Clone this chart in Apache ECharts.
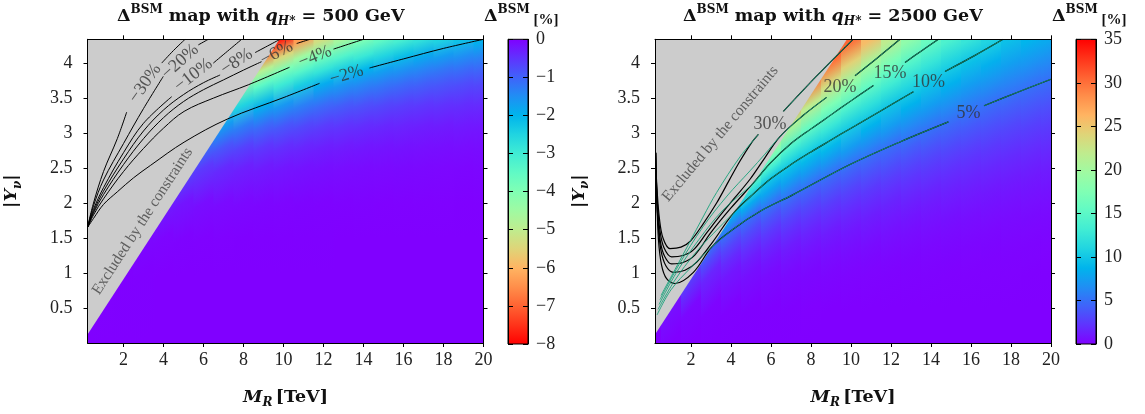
<!DOCTYPE html>
<html><head><meta charset="utf-8">
<script src="https://cdn.jsdelivr.net/npm/echarts@6/dist/echarts.min.js"></script>
<style>html,body{margin:0;padding:0;background:#fff}#c{width:1145px;height:414px}</style>
</head><body><div id="c"></div>
<script>
// ---------------- data ----------------
const xTicks = [2, 4, 6, 8, 10, 12, 14, 16, 18, 20];
const yTicks = [0.5, 1, 1.5, 2, 2.5, 3, 3.5, 4];
const leftBarTicksMin = -8, leftBarTicksMax = 0, leftBarStep = 1;
const rightBarTicksMin = 0, rightBarTicksMax = 35, rightBarStep = 5;
const excludedEdge = [[0.2, 0.12], [9.8, 4.34]];

// heat map: one column per M value, values at the listed |Y| stops (missing = hidden by the excluded region)
const heatM = [0,1,2,3,4,5,6,7,8,9,10,11,12,13,14,15,16,17,18,19,20];
const leftHeatY = [0, 1.0, 1.5, 2.0, 2.5, 2.8, 3.1, 3.4, 3.7, 3.9, 4.1, 4.34];
const leftHeat = [
  [0,-0.06],
  [0,-0.02],
  [0,-0.01,-0.15],
  [0,-0.01,-0.08,-0.52],
  [0,0,-0.05,-0.31,-1.3],
  [0,0,-0.03,-0.2,-0.83,-1.74],
  [0,0,-0.02,-0.13,-0.57,-1.2,-2.33],
  [0,0,-0.02,-0.1,-0.42,-0.87,-1.7,-3.16],
  [0,0,-0.01,-0.08,-0.32,-0.67,-1.31,-2.5,-4.26,-6],
  [0,0,-0.01,-0.06,-0.27,-0.55,-1.08,-1.96,-3.49,-4.87,-6.74,-9],
  [0,0,-0.01,-0.05,-0.22,-0.46,-0.89,-1.63,-2.95,-3.95,-5.41,-7.68],
  [0,0,-0.01,-0.04,-0.18,-0.38,-0.73,-1.33,-2.39,-3.37,-4.5,-6.3],
  [0,0,-0.01,-0.03,-0.15,-0.31,-0.6,-1.1,-1.9,-2.83,-3.8,-5.29],
  [0,0,0,-0.03,-0.13,-0.27,-0.52,-0.94,-1.63,-2.37,-3.3,-4.6],
  [0,0,0,-0.03,-0.11,-0.23,-0.45,-0.82,-1.42,-2,-2.91,-4],
  [0,0,0,-0.02,-0.1,-0.2,-0.39,-0.72,-1.25,-1.75,-2.51,-3.53],
  [0,0,0,-0.02,-0.09,-0.18,-0.35,-0.63,-1.09,-1.54,-2.16,-3.14],
  [0,0,0,-0.02,-0.08,-0.16,-0.3,-0.55,-0.97,-1.36,-1.87,-2.78],
  [0,0,0,-0.02,-0.07,-0.14,-0.27,-0.5,-0.86,-1.21,-1.68,-2.5],
  [0,0,0,-0.01,-0.06,-0.13,-0.25,-0.45,-0.77,-1.09,-1.51,-2.23],
  [0,0,0,-0.01,-0.06,-0.12,-0.22,-0.41,-0.71,-1.0,-1.38,-2]
];
const rightHeatY = [0, 0.5, 1.0, 1.2, 1.4, 1.6, 1.8, 2.0, 2.2, 2.35, 2.5, 2.65, 2.8, 3.1, 3.4, 3.7, 4.0, 4.34];
const rightHeat = [
  [0,0.8],
  [0,0.7,5],
  [0,0.35,3.2,6.5],
  [0,0.16,1.6,3.19,5.3,9.6],
  [0,0.09,0.97,1.8,3.04,4.8,8.6,13.6,19],
  [0,0.06,0.67,1.24,2.08,3.29,4.9,8.3,12.8,16.8,21],
  [0,0.05,0.5,0.93,1.57,2.46,3.68,5.4,8.0,10,13.3,16.75,20.5,28],
  [0,0.04,0.4,0.73,1.24,1.95,2.91,4.17,6.0,7.7,9.4,11.7,14.2,20.9,29.4],
  [0,0.03,0.31,0.57,0.97,1.52,2.27,3.25,4.49,5.9,7.5,9.1,11.1,15.7,21.8,29.5,36],
  [0,0.02,0.25,0.47,0.79,1.24,1.86,2.65,3.67,4.59,5.9,7.45,9.0,12.8,17.3,23.1,29.8,37],
  [0,0.02,0.21,0.38,0.65,1.02,1.53,2.19,3.03,3.8,4.67,5.96,7.4,10.4,14.2,18.8,24.2,30.6],
  [0,0.02,0.17,0.32,0.54,0.86,1.27,1.82,2.52,3.17,3.9,4.75,6.0,8.7,11.9,15.6,20,25.7],
  [0,0.01,0.15,0.28,0.46,0.73,1.09,1.55,2.15,2.68,3.32,4.05,4.88,7.4,9.9,13.2,16.9,21.8],
  [0,0.01,0.13,0.24,0.4,0.63,0.94,1.35,1.87,2.33,2.88,3.5,4.23,6.3,8.65,11.3,14.4,18.6],
  [0,0.01,0.11,0.21,0.35,0.55,0.82,1.18,1.63,2.04,2.52,3.07,3.7,5.3,7.5,9.7,12.5,16.0],
  [0,0.01,0.1,0.18,0.31,0.48,0.72,1.03,1.43,1.79,2.2,2.69,3.25,4.59,6.5,8.6,10.8,14.0],
  [0,0.01,0.09,0.16,0.27,0.42,0.63,0.9,1.25,1.56,1.92,2.34,2.83,4.0,5.6,7.5,9.5,12.5],
  [0,0.01,0.08,0.14,0.24,0.37,0.56,0.8,1.1,1.38,1.7,2.08,2.5,3.55,4.85,6.7,8.5,11.0],
  [0,0.01,0.07,0.13,0.21,0.33,0.5,0.71,0.98,1.23,1.51,1.85,2.24,3.15,4.32,5.9,7.6,9.6],
  [0,0.01,0.06,0.11,0.19,0.3,0.45,0.64,0.89,1.11,1.37,1.67,2.01,2.84,3.9,5.2,6.9,8.8],
  [0,0.01,0.05,0.1,0.17,0.27,0.4,0.58,0.8,1.0,1.24,1.51,1.82,2.57,3.52,4.69,6.2,8.1]
];

// contour lines (each level: segments broken where the label sits)
const leftContours = [
  [[[0.2,1.65],[0.5,1.78],[1.0,1.98],[1.69,2.16],[2.5,2.36],[3.36,2.54],[5.03,2.87],[7.19,3.2],[10.03,3.51],[11.8,3.71]], [[14.3,3.93],[16,4.06],[18,4.21],[20,4.34]]],
  [[[0.2,1.65],[0.5,1.83],[1.0,2.06],[2.0,2.45],[3.0,2.78],[4.0,3.07],[5.03,3.31],[6.5,3.5],[8.24,3.69],[10.3,3.94]], [[12.5,4.2],[14.0,4.34]]],
  [[[0.2,1.65],[0.5,1.86],[1.0,2.12],[2.0,2.55],[3.0,2.92],[4.0,3.22],[5.0,3.45],[6.0,3.62],[7.0,3.76],[8.0,3.9],[8.9,4.02]], [[10.66,4.28],[11.32,4.34]]],
  [[[0.2,1.65],[0.5,1.88],[1.0,2.17],[2.0,2.63],[3.0,3.03],[4.0,3.33],[5.0,3.55],[6.0,3.72],[6.83,3.83]], [[8.58,4.15],[9.83,4.34]]],
  [[[0.2,1.65],[0.5,1.91],[1.0,2.22],[2.0,2.72],[3.0,3.14],[4.41,3.52]], [[6.49,4.0],[7.2,4.17],[7.91,4.34]]],
  [[[0.2,1.65],[0.5,1.96],[1.0,2.33],[2.0,2.85],[3.0,3.35],[3.99,3.81]], [[5.74,4.26],[6.24,4.34]]],
  [[[0.2,1.65],[0.5,2.0],[1.0,2.45],[1.69,2.92],[2.16,3.3]], [[3.91,4.0],[4.5,4.18],[5.08,4.34]]]
];
const leftLabelText = ['\u221230%','\u221220%','\u221210%','\u22128%','\u22126%','\u22124%','\u22122%'];
const leftLabelPos = [[3.08,3.71],[4.83,4.02],[5.49,3.83],[7.66,4.02],[9.66,4.14],[11.58,4.09],[13.16,3.83]];
const leftLabelAngle = [55, 42, 38, 33, 28, 22, 17];

const rightBlack = [
  [[[0.23,2.72],[0.28,2.2],[0.37,1.49],[0.53,1.11],[0.78,0.92],[1.2,0.85],[2.12,1.01],[3.03,1.37],[4.12,1.63],[5.5,1.89],[7.04,2.11],[9.95,2.55],[12.5,2.88],[14.87,3.16]], [[16.65,3.39],[18.3,3.58],[20,3.77]]],
  [[[0.23,2.72],[0.27,2.25],[0.35,1.72],[0.5,1.32],[0.75,1.1],[1.12,1.01],[1.7,1.04],[2.3,1.16],[3.1,1.45],[4.1,1.85],[5,2.1],[6,2.35],[7,2.55],[8,2.73],[9,2.9],[10,3.07],[11.5,3.32],[13.12,3.59]], [[14.7,3.88],[16.2,4.11],[17.6,4.34]]],
  [[[0.23,2.72],[0.26,2.3],[0.33,1.85],[0.47,1.45],[0.68,1.24],[1.03,1.13],[1.6,1.15],[2.2,1.26],[3.0,1.58],[4.0,1.93],[5.1,2.28],[6.0,2.58],[7.0,2.85],[8.0,3.06],[9.0,3.26],[10.0,3.46],[11.12,3.68]], [[12.7,4.01],[13.5,4.17],[14.37,4.34]]],
  [[[0.23,2.72],[0.26,2.4],[0.32,2.0],[0.45,1.6],[0.65,1.36],[1.03,1.23],[1.6,1.25],[2.12,1.33],[2.8,1.58],[3.45,1.82],[4.2,2.08],[4.95,2.34],[5.7,2.65],[6.45,2.95],[7.6,3.25],[8.78,3.51]], [[10.2,3.82],[11.3,4.07],[12.45,4.34]]],
  [[[0.23,2.72],[0.25,2.5],[0.3,2.2],[0.42,1.78],[0.6,1.5],[0.95,1.35],[1.5,1.37],[1.95,1.45],[2.6,1.7],[3.28,2.0],[3.9,2.32],[4.45,2.6],[5.0,2.85],[5.37,2.98]], [[6.62,3.31],[8.3,3.82],[10.1,4.34]]]
];
const rightGreen = [
  [[[0.3,0.4],[1.0,0.76],[2.0,1.08],[3.03,1.37],[4.12,1.63],[5.5,1.89],[7.04,2.11],[9.95,2.55],[12.5,2.88],[14.87,3.16]], [[16.65,3.39],[18.3,3.58],[20,3.77]]],
  [[[0.35,0.48],[1.2,0.9],[2.2,1.28],[3.1,1.56],[4.1,1.85],[5,2.1],[6,2.35],[7,2.55],[8,2.73],[9,2.9],[10,3.07],[11.5,3.32],[13.12,3.59]], [[14.7,3.88],[16.2,4.11],[17.6,4.34]]],
  [[[0.4,0.55],[1.3,1.02],[2.4,1.48],[3.6,1.9],[5.1,2.28],[6.0,2.58],[7.0,2.85],[8.0,3.06],[9.0,3.26],[10.0,3.46],[11.12,3.68]], [[12.7,4.01],[13.5,4.17],[14.37,4.34]]],
  [[[0.45,0.62],[1.4,1.12],[2.6,1.66],[3.8,2.1],[4.95,2.46],[5.7,2.7],[6.45,2.95],[7.6,3.25],[8.78,3.51]], [[10.2,3.82],[11.3,4.07],[12.45,4.34]]],
  [[[0.5,0.68],[1.2,1.05],[1.95,1.45],[2.6,1.8],[3.28,2.15],[4.45,2.66],[5.37,2.98]], [[6.62,3.31],[8.3,3.82],[10.1,4.34]]]
];
const rightLabelText = ['30%','20%','15%','10%','5%'];
const rightLabelPos = [[5.95,3.12],[9.45,3.65],[11.95,3.86],[13.87,3.72],[15.87,3.29]];

const exclText = 'Excluded by the constraints';
const leftExclPos = [2.95, 1.74], rightExclPos = [3.47, 2.99];
const leftExclAngle = 57, rightExclAngle = 50;

// ---------------- rendering settings ----------------
// local tilt (degrees, on screen) of the colour bands inside each heat column
const leftTilt  = [35,35,35,35,33,31,30,28,25,24,23,22,20,19,18,18,17,17,16,16,16];
const rightTilt = [50,50,50,48,42,40,38,36,34,33,32,31,30,29,28,27,26,26,25,25,25];

const XMIN = 0.2, XMAX = 20, YMIN = 0, YMAX = 4.34;
const FONT = 'Liberation Serif';
const BFONT = 'DejaVu Serif';
const palette = ['#8000ff','#6032fe','#4062fa','#208ef4','#00b4ec','#20d4e1','#40ecd4','#60fac5','#80ffb4','#9ffaa2','#bfec8e','#dfd478','#ffb462','#ff8e4a','#ff6232','#ff3219','#ff0000'];
function colorAt(p) { p = Math.max(0, Math.min(1, p)); return echarts.color.lerp(p, palette); }
const GREEN = '#17a27a';

const TOP = 39.3, H = 304.7;
const grids = [
  {left: 87.5, top: TOP, width: 396, height: H},
  {left: 508, top: TOP, width: 20, height: H},
  {left: 655, top: TOP, width: 396, height: H},
  {left: 1076, top: TOP, width: 20, height: H}
];

const tickLabelStyle = {fontFamily: FONT, fontSize: 18, color: '#222'};
const richBase = {
  b: {fontFamily: BFONT, fontWeight: 'bold', fontSize: 17.5, color: '#111', lineHeight: 24},
  bi: {fontFamily: BFONT, fontWeight: 'bold', fontStyle: 'italic', fontSize: 17.5, color: '#111', lineHeight: 24},
  sup: {fontFamily: BFONT, fontWeight: 'bold', fontSize: 12, color: '#111', lineHeight: 13, verticalAlign: 'top'},
  sub: {fontFamily: BFONT, fontWeight: 'bold', fontStyle: 'italic', fontSize: 12, color: '#111', lineHeight: 13, verticalAlign: 'bottom'},
  n: {fontFamily: FONT, fontSize: 15, color: '#111', lineHeight: 24, verticalAlign: 'bottom'}
};

function plotAxes(gi) {
  const common = {type: 'value', gridIndex: gi, z: 10, splitLine: {show: false},
    axisLine: {show: true, onZero: false, lineStyle: {color: '#000', width: 1}}};
  const xs = [
    Object.assign({}, common, {position: 'bottom', min: XMIN, max: XMAX,
      axisTick: {show: true, length: 4, customValues: xTicks, lineStyle: {color: '#000'}},
      axisLabel: Object.assign({customValues: xTicks, margin: 8}, tickLabelStyle),
      name: '{bi|M}{sub|R} {b|[TeV]}', nameLocation: 'middle', nameGap: 42,
      nameTextStyle: {rich: richBase}}),
    Object.assign({}, common, {position: 'top', min: XMIN, max: XMAX,
      axisTick: {show: true, length: 4, customValues: xTicks, lineStyle: {color: '#000'}},
      axisLabel: {show: false}})
  ];
  const ys = [
    Object.assign({}, common, {position: 'left', min: YMIN, max: YMAX,
      axisTick: {show: true, length: 4, customValues: yTicks, lineStyle: {color: '#000'}},
      axisLabel: Object.assign({customValues: yTicks, margin: 15}, tickLabelStyle),
      name: '{b||}{bi|Y}{sub|\u03bd}{b||}', nameLocation: 'middle', nameGap: 64, nameRotate: 90,
      nameTextStyle: {rich: richBase}}),
    Object.assign({}, common, {position: 'right', min: YMIN, max: YMAX,
      axisTick: {show: true, length: 4, customValues: yTicks, lineStyle: {color: '#000'}},
      axisLabel: {show: false}})
  ];
  return {xs, ys};
}
function barAxes(gi, mn, mx, step) {
  const common = {type: 'value', gridIndex: gi, z: 10, min: mn, max: mx, interval: step, splitLine: {show: false},
    axisLine: {show: true, onZero: false, lineStyle: {color: '#000', width: 1}},
    axisTick: {show: true, inside: true, length: 5, lineStyle: {color: '#000'}}};
  const xs = [{type: 'value', gridIndex: gi, min: 0, max: 1, show: false}];
  const ys = [
    Object.assign({}, common, {position: 'left', axisLabel: {show: false}}),
    Object.assign({}, common, {position: 'right',
      axisLabel: Object.assign({margin: 8, formatter: v => v < 0 ? '\u2212' + Math.abs(v) : String(v)}, tickLabelStyle)})
  ];
  return {xs, ys};
}

const xAxis = [], yAxis = [];
function addAxes(a) { const xi = xAxis.length, yi = yAxis.length; a.xs.forEach(x => xAxis.push(x)); a.ys.forEach(y => yAxis.push(y)); return {xi, yi}; }
const L = addAxes(plotAxes(0));
const LB = addAxes(barAxes(1, leftBarTicksMin, leftBarTicksMax, leftBarStep));
const R = addAxes(plotAxes(2));
const RB = addAxes(barAxes(3, rightBarTicksMin, rightBarTicksMax, rightBarStep));

function heatSeries(ax, stopsY, rows, norm, tilts) {
  return {
    type: 'custom', xAxisIndex: ax.xi, yAxisIndex: ax.yi, z: 1, silent: true,
    data: heatM.map(m => [m, 0]), encode: {x: 0, y: 1},
    renderItem: function (params, api) {
      const i = params.dataIndex, m = api.value(0), row = rows[i];
      const cs = params.coordSys;
      let xl = api.coord([m - 0.5, 0])[0], xr = api.coord([m + 0.5, 0])[0];
      xl = Math.max(xl, cs.x); xr = Math.min(xr, cs.x + cs.width);
      const xc = api.coord([m, 0])[0];
      const pts = [];
      for (let k = 0; k < row.length; k++) {
        if (row[k] == null) break;
        pts.push([api.coord([m, stopsY[k]])[1], row[k]]);
      }
      const yB = pts[0][0], yT = pts[pts.length - 1][0], Hh = yB - yT;
      const th = tilts[i] * Math.PI / 180, Ln = Hh * Math.cos(th);
      const grad = {type: 'linear', global: true, x: xc, y: yB,
        x2: xc - Ln * Math.sin(th), y2: yB - Ln * Math.cos(th),
        colorStops: pts.map(p => ({offset: (yB - p[0]) / Hh, color: colorAt(norm(p[1]))}))};
      return {type: 'rect', shape: {x: xl, y: cs.y, width: Math.min(xr - xl + 0.7, cs.x + cs.width - xl), height: cs.height},
        style: {fill: grad}};
    }
  };
}
function greySeries(ax) {
  return {type: 'custom', xAxisIndex: ax.xi, yAxisIndex: ax.yi, z: 2, silent: true, data: [[XMIN, YMAX]],
    renderItem: (params, api) => ({type: 'polygon',
      shape: {points: [api.coord(excludedEdge[0]), api.coord(excludedEdge[1]), api.coord([XMIN, YMAX])]},
      style: {fill: '#cccccc'}})};
}
function lineSeries(ax, levels, color, width, z) {
  const out = [];
  levels.forEach(segs => segs.forEach(seg => out.push({
    type: 'line', xAxisIndex: ax.xi, yAxisIndex: ax.yi, data: seg, symbol: 'none', smooth: 0.35,
    lineStyle: {color: color, width: width}, z: z, silent: true})));
  return out;
}
function labelSeries(ax, pos, texts, angles, style) {
  return {type: 'scatter', xAxisIndex: ax.xi, yAxisIndex: ax.yi, z: 6, silent: true, symbolSize: 1,
    itemStyle: {color: 'rgba(0,0,0,0)'},
    data: pos.map((p, i) => ({value: p, label: {formatter: texts[i], rotate: angles ? angles[i] : 0}})),
    label: Object.assign({show: true, position: 'inside'}, style)};
}
function barSeries(ax, mn, mx, reversed) {
  const cols = reversed ? palette.slice().reverse() : palette;
  return {type: 'custom', xAxisIndex: ax.xi, yAxisIndex: ax.yi, z: 1, silent: true, data: [[0, mn]],
    renderItem: (params, api) => {
      const p0 = api.coord([0, mx]), p1 = api.coord([1, mn]);
      return {type: 'rect', shape: {x: p0[0], y: p0[1], width: p1[0] - p0[0], height: p1[1] - p0[1]},
        style: {stroke: '#000', lineWidth: 1,
          fill: {type: 'linear', x: 0, y: 0, x2: 0, y2: 1, colorStops: cols.map((c, i) => ({offset: i / (cols.length - 1), color: c}))}}};
    }};
}

const labelStyle = {fontFamily: FONT, fontSize: 18, color: '#333'};
const exclStyle = {fontFamily: FONT, fontSize: 15.5, color: '#444'};

const series = [].concat(
  [heatSeries(L, leftHeatY, leftHeat, v => -v / 8, leftTilt), greySeries(L)],
  lineSeries(L, leftContours, '#000', 1, 3),
  [labelSeries(L, leftLabelPos, leftLabelText, leftLabelAngle, labelStyle),
   labelSeries(L, [leftExclPos], [exclText], [leftExclAngle], exclStyle),
   barSeries(LB, leftBarTicksMin, leftBarTicksMax, false),
   heatSeries(R, rightHeatY, rightHeat, v => v / 35, rightTilt), greySeries(R)],
  lineSeries(R, rightBlack, '#000', 1.2, 3),
  lineSeries(R, rightGreen, GREEN, 0.9, 4),
  [labelSeries(R, rightLabelPos, rightLabelText, null, labelStyle),
   labelSeries(R, [rightExclPos], [exclText], [rightExclAngle], exclStyle),
   barSeries(RB, rightBarTicksMin, rightBarTicksMax, true)]
);

const option = {
  animation: false,
  backgroundColor: '#fff',
  title: [
    {text: '{b|\u0394}{sup|BSM}{b| map with }{bi|q}{sub|H*}{b| = 500 GeV}', left: 112, top: -1, textStyle: {rich: richBase}},
    {text: '{b|\u0394}{sup|BSM}{n| [%]}', left: 479, top: -1, textStyle: {rich: richBase}},
    {text: '{b|\u0394}{sup|BSM}{b| map with }{bi|q}{sub|H*}{b| = 2500 GeV}', left: 678, top: -1, textStyle: {rich: richBase}},
    {text: '{b|\u0394}{sup|BSM}{n| [%]}', left: 1047, top: -1, textStyle: {rich: richBase}}
  ],
  grid: grids,
  xAxis: xAxis,
  yAxis: yAxis,
  series: series
};
const chart = echarts.init(document.getElementById('c'), null, {renderer: 'canvas', width: 1145, height: 414});
chart.setOption(option);
</script></body></html>
